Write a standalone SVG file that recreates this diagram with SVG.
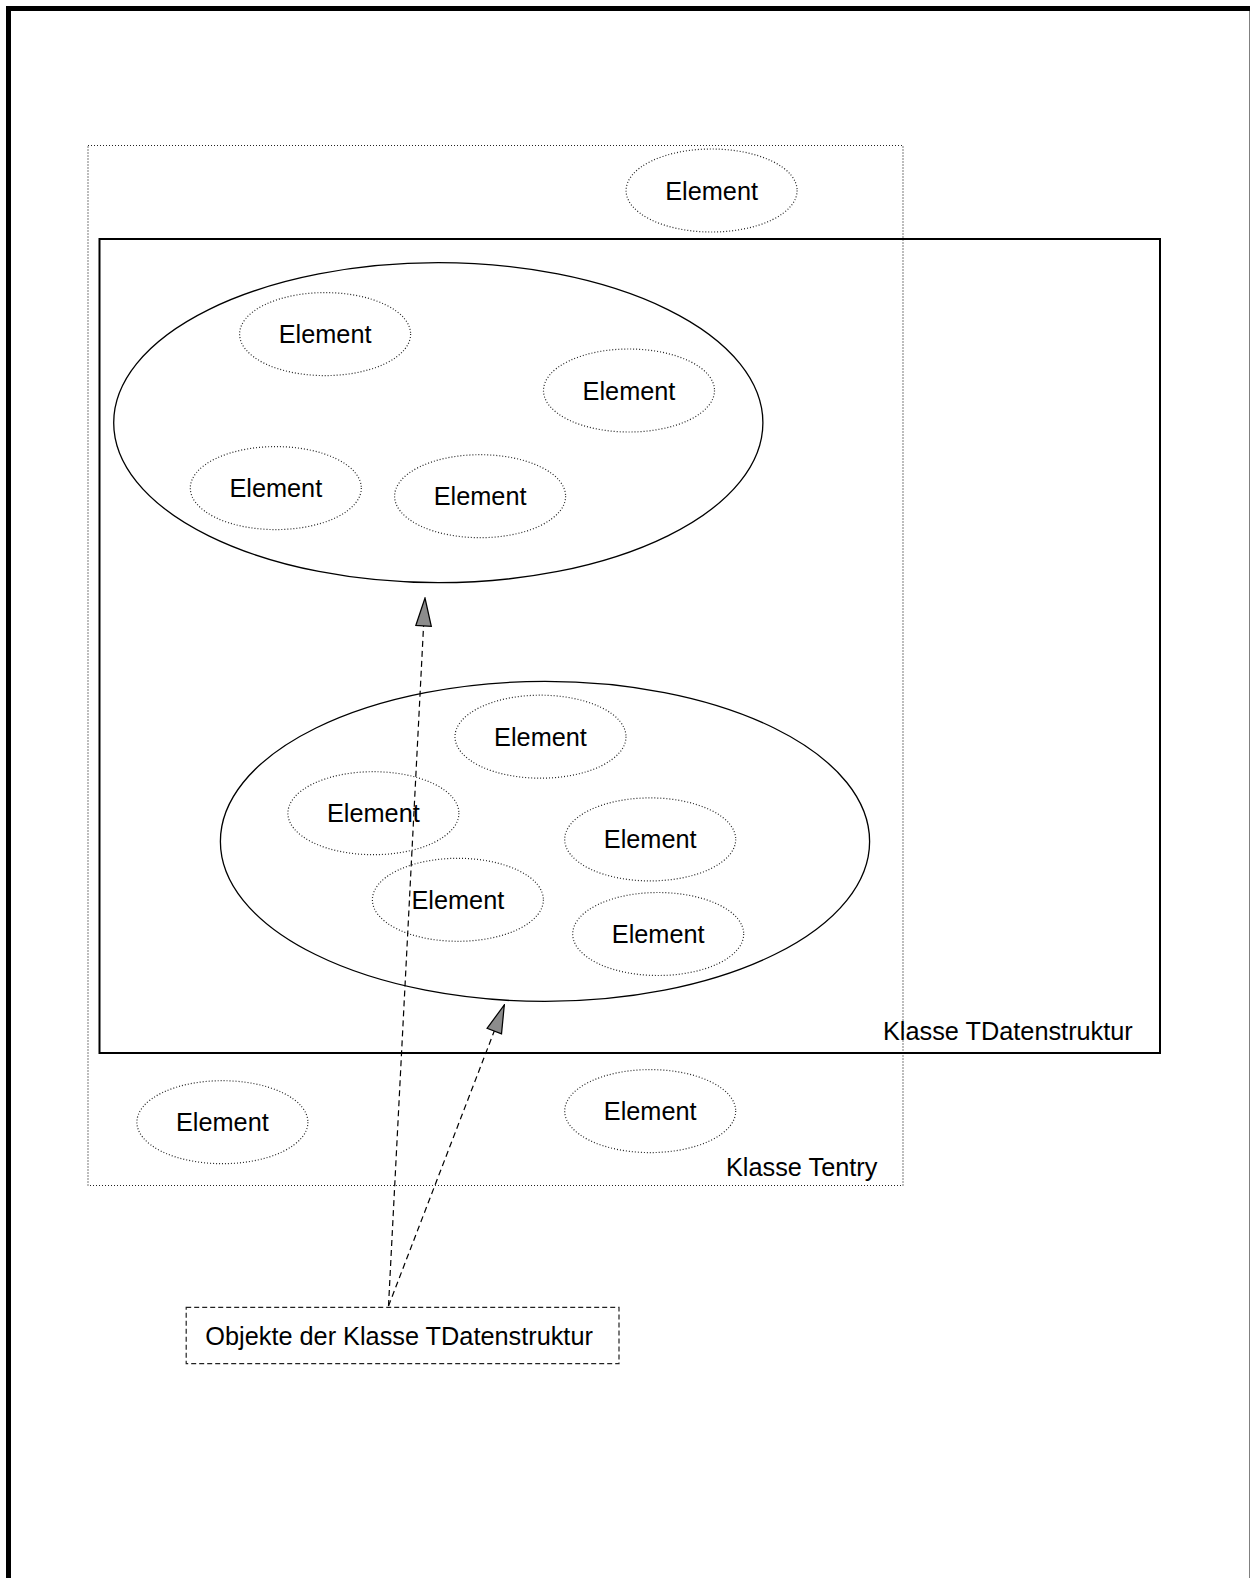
<svg xmlns="http://www.w3.org/2000/svg" width="1250" height="1578" viewBox="0 0 1250 1578">
  <style>
    text { font-family: "Liberation Sans", Arial, Helvetica, sans-serif; font-size: 25.3px; fill: #000; }
    .lbl { text-anchor: middle; }
    .frame { fill: none; stroke: #000; stroke-width: 5; }
    .cls { fill: none; stroke: #000; stroke-width: 2; }
    .entry { fill: none; stroke: #222; stroke-width: 1.2; stroke-dasharray: 1 2; }
    .set { fill: none; stroke: #000; stroke-width: 1.3; }
    .elem ellipse { fill: none; stroke: #222; stroke-width: 1.2; stroke-dasharray: 1 2; }
    .note { fill: none; stroke: #222; stroke-width: 1.2; stroke-dasharray: 5 3; }
    .link { fill: none; stroke: #000; stroke-width: 1.2; stroke-dasharray: 6 4; }
  </style>
  <defs>
    <marker id="head" markerUnits="userSpaceOnUse" markerWidth="30" markerHeight="18" viewBox="-1 -1 29 17" refX="27" refY="7.5" orient="auto">
      <path d="M0,0 L27,7.5 L0,15 Z" fill="#8c8c8c" stroke="#000" stroke-width="1.2"/>
    </marker>
  </defs>

  <rect width="1250" height="1578" fill="#fff"/>

  <!-- page frame -->
  <rect class="frame" x="8.5" y="8.5" width="1243.5" height="1620"/>

  <!-- class Tentry -->
  <g id="tentry">
    <rect class="entry" x="88" y="145.5" width="815" height="1040"/>
    <text x="726" y="1176">Klasse Tentry</text>
  </g>

  <!-- class TDatenstruktur -->
  <g id="tdatenstruktur">
    <rect class="cls" x="99.5" y="239" width="1060.5" height="814"/>
    <text x="883" y="1040">Klasse TDatenstruktur</text>
  </g>

  <!-- first object -->
  <g id="obj1">
    <ellipse class="set" cx="438.3" cy="422.7" rx="324.6" ry="160"/>
  </g>

  <!-- second object -->
  <g id="obj2">
    <ellipse class="set" cx="545" cy="841.4" rx="324.6" ry="160"/>
  </g>

  <!-- elements -->
  <g id="el-top" class="elem">
    <ellipse cx="711.6" cy="190.5" rx="85.5" ry="41.5"/>
    <text class="lbl" x="711.6" y="199.5">Element</text>
  </g>
  <g id="el-1a" class="elem">
    <ellipse cx="325.1" cy="334.1" rx="85.5" ry="41.5"/>
    <text class="lbl" x="325.1" y="343.1">Element</text>
  </g>
  <g id="el-1b" class="elem">
    <ellipse cx="629" cy="390.5" rx="85.5" ry="41.5"/>
    <text class="lbl" x="629" y="399.5">Element</text>
  </g>
  <g id="el-1c" class="elem">
    <ellipse cx="275.8" cy="488.1" rx="85.5" ry="41.5"/>
    <text class="lbl" x="275.8" y="497.1">Element</text>
  </g>
  <g id="el-1d" class="elem">
    <ellipse cx="480.1" cy="496.2" rx="85.5" ry="41.5"/>
    <text class="lbl" x="480.1" y="505.2">Element</text>
  </g>
  <g id="el-2a" class="elem">
    <ellipse cx="540.5" cy="736.7" rx="85.5" ry="41.5"/>
    <text class="lbl" x="540.5" y="745.7">Element</text>
  </g>
  <g id="el-2b" class="elem">
    <ellipse cx="373.4" cy="813.2" rx="85.5" ry="41.5"/>
    <text class="lbl" x="373.4" y="822.2">Element</text>
  </g>
  <g id="el-2c" class="elem">
    <ellipse cx="650.2" cy="839.4" rx="85.5" ry="41.5"/>
    <text class="lbl" x="650.2" y="848.4">Element</text>
  </g>
  <g id="el-2d" class="elem">
    <ellipse cx="457.9" cy="899.8" rx="85.5" ry="41.5"/>
    <text class="lbl" x="457.9" y="908.8">Element</text>
  </g>
  <g id="el-2e" class="elem">
    <ellipse cx="658.2" cy="934" rx="85.5" ry="41.5"/>
    <text class="lbl" x="658.2" y="943">Element</text>
  </g>
  <g id="el-out1" class="elem">
    <ellipse cx="222.4" cy="1122.2" rx="85.5" ry="41.5"/>
    <text class="lbl" x="222.4" y="1131.2">Element</text>
  </g>
  <g id="el-out2" class="elem">
    <ellipse cx="650.2" cy="1111.1" rx="85.5" ry="41.5"/>
    <text class="lbl" x="650.2" y="1120.1">Element</text>
  </g>

  <!-- note -->
  <g id="note">
    <rect class="note" x="186.2" y="1307.3" width="432.8" height="56.4"/>
    <text x="205.3" y="1344.6">Objekte der Klasse TDatenstruktur</text>
  </g>

  <!-- connectors -->
  <g id="connectors">
    <line class="link" x1="388.5" y1="1306" x2="425" y2="598" marker-end="url(#head)"/>
    <line class="link" x1="388.5" y1="1306" x2="504.3" y2="1005" marker-end="url(#head)"/>
  </g>
</svg>
